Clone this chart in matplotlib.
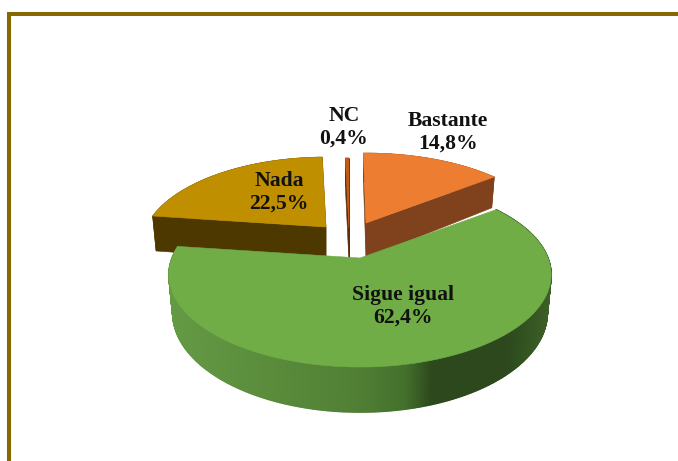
import numpy as np
import matplotlib
matplotlib.use("Agg")
import matplotlib.pyplot as plt
from matplotlib.colors import to_rgb

categories = ["Bastante", "Sigue igual", "Nada", "NC"]
values = [14.8, 62.4, 22.5, 0.4]

top_colors = ["#ed7d31", "#70ad47", "#bf8f00", "#c55a11"]
wall_colors = ["#7f421c", None, "#4d3800", "#5c2c0c"]
apex_px = [(366, 223), (360, 258), (326, 227), (349, 228)]
radius_px = [184, 188, 180, 180]
persp = [0.218, 0.18, 0.218, 0.218]
squash = [85.2, 89.4, 85.2, 85.2]
depth_px = [35, 37, 36, 35]
turn_deg = [-1.0, 0.0, 0.0, 0.0]
label_px = [(448, 132), (403, 306), (279, 192), (344, 127)]
draw_order = [2, 3, 0, 1]

FRAME = "#876700"
GRAD_POS = [0.0, 0.5, 0.62, 0.69, 0.88, 1.0]
GRAD_COL = ["#659a44", "#507f34", "#44702c", "#2c481c", "#2c481c", "#3d6128"]

fig = plt.figure(figsize=(6.78, 4.61), dpi=100, facecolor="white")
ax = fig.add_axes([0, 0, 1, 1])
ax.set_xlim(0, 678)
ax.set_ylim(461, 0)
ax.axis("off")

fractions = np.array(values) / np.sum(values)
edges = np.concatenate([[0], np.cumsum(fractions)]) * 2 * np.pi


def angles(i, n):
    return np.linspace(edges[i], edges[i + 1], n) + np.radians(turn_deg[i])


def wedge_outline(i):
    th = angles(i, max(3, int((edges[i + 1] - edges[i]) * 60)))
    return np.concatenate([[0.0], np.sin(th)]), np.concatenate([[0.0], np.cos(th)])


def project(i, X, Y, lower=False):
    s = 1 / (1 + persp[i] * Y)
    shrink = 0.98 if lower else 1.0
    x = apex_px[i][0] + radius_px[i] * X * s * shrink
    y = apex_px[i][1] - squash[i] * Y * s + (depth_px[i] * s if lower else 0)
    return x, y


def green_wall(xc, i):
    lo = apex_px[i][0] - 192
    hi = apex_px[i][0] + 192
    t = np.clip((xc - lo) / (hi - lo), 0, 1)
    rgb = [to_rgb(c) for c in GRAD_COL]
    return tuple(np.interp(t, GRAD_POS, [c[k] for c in rgb]) for k in range(3))


for i in draw_order:
    X, Y = wedge_outline(i)
    xt, yt = project(i, X, Y)
    xb, yb = project(i, X, Y, lower=True)
    if wall_colors[i] is None:
        # dense sampling along the arc so that the wall shades smoothly
        th = angles(i, 500)
        X2, Y2 = np.sin(th), np.cos(th)
        xt2, yt2 = project(i, X2, Y2)
        xb2, yb2 = project(i, X2, Y2, lower=True)
        for j in range(len(th) - 1):
            c = green_wall(xt2[j], i)
            ax.fill([xt2[j], xt2[j + 1], xb2[j + 1], xb2[j]],
                    [yt2[j], yt2[j + 1], yb2[j + 1], yb2[j]],
                    color=c, lw=1.0, zorder=2)
    else:
        n = len(xt)
        segs = sorted(range(n), key=lambda j: yt[j] + yt[(j + 1) % n])
        for j in segs:
            k = (j + 1) % n
            ax.fill([xt[j], xt[k], xb[k], xb[j]], [yt[j], yt[k], yb[k], yb[j]],
                    color=wall_colors[i], lw=0.4, zorder=1)
    ax.fill(xt, yt, color=top_colors[i], lw=0.4, zorder=3)

for i in range(len(categories)):
    ax.text(label_px[i][0], label_px[i][1],
            f"{categories[i]}\n{values[i]:.1f}%".replace(".", ","),
            ha="center", va="center", family="Liberation Serif",
            fontweight="bold", fontsize=15.6, color="#111111",
            linespacing=1.2, zorder=5)

ax.plot([9, 9, 678], [461, 14, 14], color=FRAME, lw=2.9,
        solid_joinstyle="miter", solid_capstyle="butt", zorder=6)

fig.savefig("out.png", dpi=100, facecolor="white")
